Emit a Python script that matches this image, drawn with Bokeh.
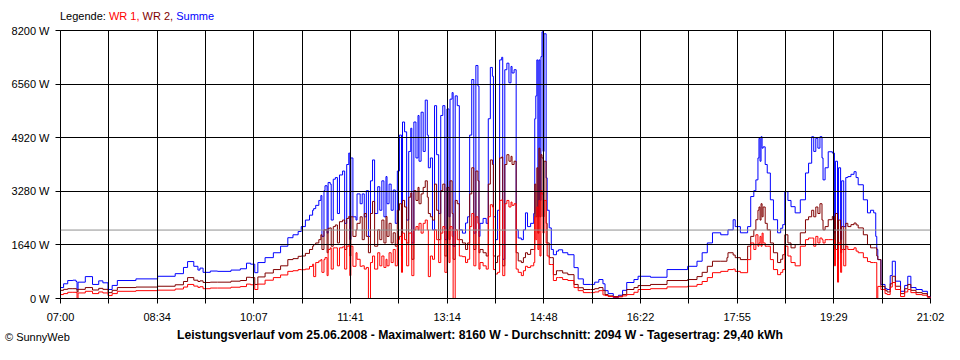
from bokeh.plotting import figure
from bokeh.models import Range1d, FixedTicker, PrintfTickFormatter, Span, ColumnDataSource, Div
from bokeh.layouts import column
from bokeh.embed import file_html
from bokeh.resources import INLINE

# minutes after 07:00
T = [0,3,7,12,15,16,17,24,31,37,41,46,50,55,73,94,111,119,123,129,133,135,138,145,152,165,174,180,184,188,191,198,206,213,220,225,230,
     233,237,241,244,245,247,250,252,253,255,256,258,259,261,262,264,266,268,270,273,275,277,279,280,281,283,286,287,290,292,294,296,298,
     300,302,304,307,309,311,313,315,316,318,320,322,324,326,328,330,331,333,335,337,339,340,342,344,346,347,349,351,353,355,356,358,360,
     362,364,366,368,370,372,374,376,377,379,380,382,384,386,389,392,394,396,398,400,402,404,405,406,409,412,414,416,418,419,421,423,425,
     427,428,430,432,434,436,437,439,441,443,446,448,450,452,455,458,459,460,461,462,463,464,465,466,467,468,470,471,473,475,477,480,482,
     486,491,497,501,506,513,517,521,525,527,530,535,540,544,548,555,559,571,587,607,616,621,626,631,639,645,646,651,653,658,665,668,671,
     673,675,676,677,678,679,680,682,684,687,690,694,697,699,701,704,707,711,716,721,724,727,729,731,733,735,737,738,740,743,747,749,750,
     752,753,755,756,758,760,762,765,768,770,772,777,781,784,787,789,790,791,794,798,800,803,805,808,813,817,820,823,828,834,839,842]

SUMME = [335,450,550,560,520,270,500,670,430,540,480,275,400,550,600,680,760,950,1130,985,870,930,800,840,830,870,910,1080,1050,790,1100,1250,1400,1600,1860,1950,2050,
         2200,2400,2550,2700,2750,2850,3000,3150,1900,3300,3450,2000,3550,3500,2400,3650,3700,2600,3780,3900,2300,4100,4450,1800,4300,2500,2400,3200,2900,3200,2500,3300,1900,
         3600,4240,2600,3420,2700,3600,2500,3730,2900,3500,2700,3320,2300,3900,5000,1700,5400,5100,2400,4500,5210,1700,5400,4300,5600,4200,5700,4500,6070,5000,4000,4300,2100,
         5900,4400,2600,5600,5900,1800,5800,2500,6100,6300,1600,6200,5900,2100,2000,2310,2500,5000,6700,2000,7130,6500,1900,2300,2450,2300,5500,7070,6800,2500,1800,2700,7300,
         7380,1200,7000,7200,6600,7100,6900,7000,2100,1850,1800,2100,2620,2200,2300,2600,5500,6200,7300,2500,7300,3000,7400,8160,4500,8100,3690,2700,2160,1500,1340,1450,1490,
         1400,1340,945,600,430,430,500,580,450,240,150,30,100,250,490,580,680,650,885,985,1140,1400,1700,2010,1950,1950,2100,2410,2200,2010,2200,3120,3300,
         3630,4300,4900,4200,4950,4600,4640,4100,3840,3020,2410,2010,2150,2260,3270,3000,2810,2620,3020,3840,4140,4950,4500,4900,4600,4950,4300,3630,4000,4490,4450,2000,4200,
         1500,4000,1800,3600,2200,3700,3730,3800,3880,3700,3480,3020,2620,2700,2620,1900,1500,1190,430,300,275,700,1140,530,220,400,680,335,275,220,60,0]

WR2 = [250,280,300,300,290,200,280,335,260,310,280,180,250,335,350,375,420,520,640,560,520,540,490,500,500,530,550,650,640,430,660,780,885,1000,1190,1220,1290,
       1300,1380,1500,1600,1650,1700,1800,1950,1500,2100,2100,1400,2150,2160,1600,2200,2250,1700,2350,2400,1500,2450,2510,1300,2500,1900,2100,2300,2500,1800,2600,1900,1400,
       2600,2970,1600,2100,1800,2400,1700,2510,1900,2300,1700,2010,1600,2700,2900,1300,3000,2800,1700,3100,3230,1200,3300,3000,3400,2900,3200,3400,3600,3100,2600,2500,2400,
       3500,2700,1800,3300,3500,1300,3400,1800,3600,2600,1200,3000,2900,1800,1700,1500,1700,3200,4000,1500,3900,3600,1400,1500,1400,1300,3500,4240,4100,1300,1100,1300,4300,
       4330,1000,4100,4400,4200,4350,4100,4200,1400,1150,1100,1250,1400,1350,1500,1500,3500,2500,4000,2000,4600,2500,4400,4300,2500,4200,2300,1700,1250,1250,730,850,850,
       780,730,430,330,275,275,300,335,250,120,80,60,70,120,275,335,395,430,550,580,670,800,985,1140,1140,1250,1400,1330,1250,1190,1600,1900,2100,
       2410,2700,2800,2400,2900,2500,2800,2300,2100,1700,1400,1100,1200,1340,1950,1700,1550,1650,2010,2410,2500,2700,2500,2800,2600,2900,2400,2100,2200,2410,2510,1500,2600,
       1200,2400,1400,2200,1500,2300,2200,2260,2310,2250,2160,1950,1650,1550,1550,1550,1300,1190,370,250,200,450,680,375,150,300,430,250,180,150,50,0]

WR1 = [120,150,190,190,180,0,170,220,150,200,170,90,150,220,240,255,290,350,430,380,340,360,300,320,320,345,365,440,420,275,440,560,640,720,830,850,885,
       880,900,980,1050,670,1100,1150,1190,800,1190,1250,700,1500,1550,900,1550,1550,1000,1550,1580,900,1600,1620,700,1600,985,1400,1200,985,1000,900,950,0,
       1100,1300,900,1400,1000,1300,950,1200,1000,1400,1100,1500,1000,1800,1900,800,2000,1800,1000,2000,2010,700,2100,2200,2100,2300,2000,2300,2400,2100,670,1300,1200,
       2100,1800,1100,2000,2200,800,2100,1100,2200,1900,0,2100,1800,1300,1280,1100,1200,2200,2600,1000,2500,2300,900,1100,1000,900,2500,2870,2800,885,750,800,3000,
       3020,700,2900,3000,2800,2950,2850,2900,900,800,700,850,985,950,1000,1100,2500,1800,2800,1500,3000,1300,3300,3200,2000,3000,1700,1300,1040,1040,550,640,640,
       580,550,335,240,180,180,200,240,110,90,60,40,50,80,120,190,275,300,355,375,430,520,640,790,830,830,885,900,830,790,1190,1700,1500,
       1950,1600,1700,1900,1600,2000,1700,1600,1600,1190,885,730,800,885,1600,1300,1100,1000,1600,1800,1850,1850,1600,1900,1700,1850,1800,1700,1800,1800,1800,1000,1500,
       500,1700,800,1500,1000,1600,1500,1500,1550,1450,1400,1250,1130,1100,1100,1100,0,370,275,150,120,350,490,275,60,200,275,180,120,100,40,0]

X_LABELS = ["07:00", "08:34", "10:07", "11:41", "13:14", "14:48", "16:22", "17:55", "19:29", "21:02"]
Y_TICKS = [0, 1640, 3280, 4920, 6560, 8200]
SPAN_MIN = 842
AVERAGE = 2094
TITLE = "Leistungsverlauf vom 25.06.2008 - Maximalwert: 8160 W - Durchschnitt: 2094 W - Tagesertrag: 29,40 kWh"

FONT = "Liberation Sans"
W = 950

src = ColumnDataSource(dict(t=T, summe=SUMME, wr2=WR2, wr1=WR1))

p = figure(width=W, height=301, output_backend="svg", toolbar_location=None,
           x_range=Range1d(0, SPAN_MIN), y_range=Range1d(0, 8200),
           min_border_left=60, min_border_right=20, min_border_top=6, min_border_bottom=26)
p.background_fill_color = "white"
p.border_fill_color = "white"
p.outline_line_color = "black"
p.outline_line_alpha = 1

p.step(x="t", y="summe", source=src, mode="after", line_color="#0000FF", line_width=1)
p.step(x="t", y="wr2", source=src, mode="after", line_color="#800000", line_width=1)
p.step(x="t", y="wr1", source=src, mode="after", line_color="#FF0000", line_width=1)

p.add_layout(Span(location=AVERAGE, dimension="width", line_color="#909090", line_width=1))

nint = 2 * (len(X_LABELS) - 1)
xt = [k * SPAN_MIN / nint for k in range(nint + 1)]
p.xaxis.ticker = FixedTicker(ticks=xt)
p.xaxis.major_label_overrides = {xt[k]: (X_LABELS[k // 2] if k % 2 == 0 else "") for k in range(nint + 1)}
p.yaxis.ticker = FixedTicker(ticks=Y_TICKS)
p.yaxis.formatter = PrintfTickFormatter(format="%d W")

for ax in (p.xaxis[0], p.yaxis[0]):
    ax.axis_line_color = "black"
    ax.major_tick_line_color = "black"
    ax.major_tick_out = 5
    ax.major_tick_in = 0
    ax.minor_tick_line_color = None
    ax.major_label_text_font = FONT
    ax.major_label_text_font_size = "11px"
    ax.major_label_text_color = "black"
p.xaxis.major_label_standoff = 7
p.yaxis.major_label_standoff = 6

for g in (p.xgrid[0], p.ygrid[0]):
    g.grid_line_color = "black"
    g.grid_line_alpha = 1
    g.grid_line_width = 1
    g.level = "overlay"
p.xgrid.ticker = FixedTicker(ticks=xt)
p.ygrid.ticker = FixedTicker(ticks=Y_TICKS)

legend_html = (
    f'<div style="font-family:\'{FONT}\';font-size:11px;line-height:14px;padding:9px 0 0 60px;'
    'margin:0;white-space:nowrap;">'
    '<span style="color:#000000">Legende: </span>'
    '<span style="color:#FF0000">WR 1, </span>'
    '<span style="color:#800000">WR 2, </span>'
    '<span style="color:#0000FF">Summe</span></div>'
)
top = Div(text=legend_html, width=W, height=24, styles={"margin": "0", "padding": "0"})

bottom_html = (
    f'<div style="position:relative;height:19px;width:{W}px;margin:0;font-family:\'{FONT}\';color:#000;">'
    f'<div style="position:absolute;left:0;top:3px;width:960px;text-align:center;font-size:12.2px;'
    f'font-weight:bold;line-height:14px;white-space:nowrap;">{TITLE}</div>'
    '<div style="position:absolute;left:5px;top:5px;font-size:11px;line-height:14px;white-space:nowrap;">'
    '\u00a9 SunnyWeb</div></div>'
)
bottom = Div(text=bottom_html, width=W, height=19, styles={"margin": "0", "padding": "0"})

layout = column(top, p, bottom, spacing=0)

open("out.html", "w").write(file_html(layout, INLINE))
